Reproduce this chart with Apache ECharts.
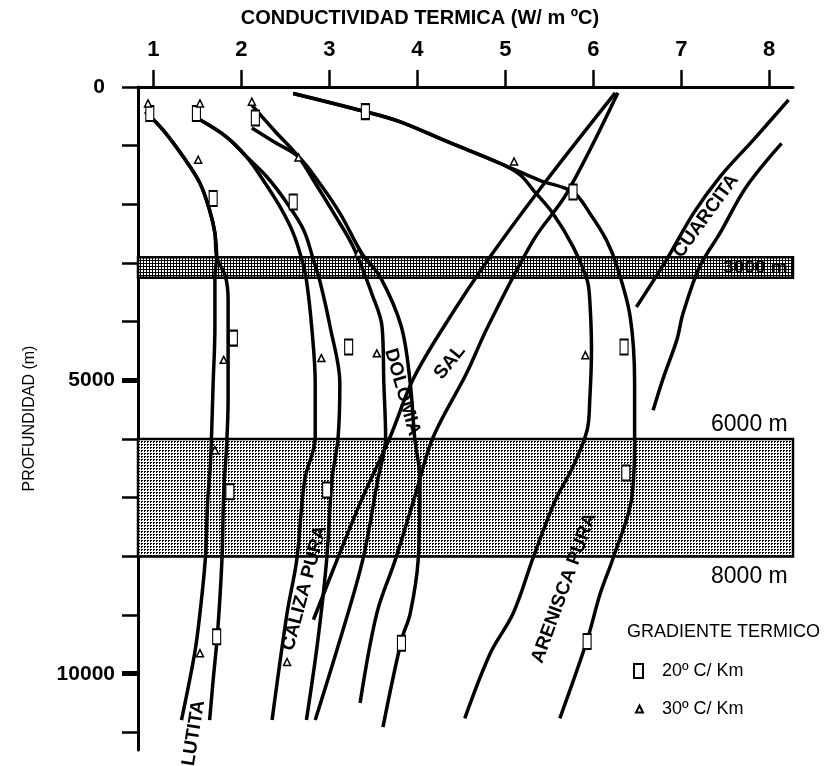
<!DOCTYPE html>
<html>
<head>
<meta charset="utf-8">
<script src="https://cdn.jsdelivr.net/npm/echarts@6/dist/echarts.min.js"></script>
<style>
  html, body { margin: 0; padding: 0; background: #fff; }
  #chart { width: 827px; height: 766px; }
</style>
</head>
<body>
<div id="chart"></div>
<script>
// Thermal conductivity (W/m °C) of rocks against depth (m), for two thermal gradients.

const conductivityTicks = [1, 2, 3, 4, 5, 6, 7, 8];
const depthLabelTicks = [0, 5000, 10000];
const depthMajorTicks = [5000, 10000];
const depthMinorTicks = [0, 1000, 2000, 3000, 4000, 5000, 6000, 7000, 8000, 9000, 10000, 11000];

const X_MIN = 0.826, X_MAX = 8.27, DEPTH_MAX = 11300;

// curves: [conductivity, depth]
const lutitaA = [[0.91,420],[1.11,730],[1.34,1190],[1.53,1640],[1.64,2100],[1.70,2490],[1.72,2890],[1.70,3230],[1.70,4090],[1.68,5050],[1.65,6400],[1.62,7000],[1.59,8060],[1.53,8970],[1.47,9650],[1.32,10790]];
const lutitaB = [[0.91,420],[1.11,730],[1.34,1190],[1.53,1640],[1.64,2100],[1.70,2490],[1.72,2890],[1.82,3230],[1.85,3630],[1.85,4480],[1.85,5340],[1.83,6190],[1.80,6900],[1.78,8060],[1.73,9310],[1.68,10110],[1.64,10790]];
const calizaA = [[1.53,560],[1.83,850],[2.06,1190],[2.25,1590],[2.44,2040],[2.59,2490],[2.69,2950],[2.74,3290],[2.80,4090],[2.84,5050],[2.84,5970],[2.72,6700],[2.63,8060],[2.52,8970],[2.35,10790]];
const calizaB = [[1.53,560],[1.83,850],[2.06,1190],[2.29,1530],[2.52,1980],[2.71,2440],[2.82,2950],[2.89,3290],[3.01,4090],[3.12,5050],[3.10,5970],[3.03,6700],[2.97,8060],[2.87,9430],[2.74,10790]];
const dolomiaA = [[2.12,310],[2.38,750],[2.65,1190],[2.82,1590],[3.05,2150],[3.27,2720],[3.49,3550],[3.60,4090],[3.62,5050],[3.64,5970],[3.55,6700],[3.38,8060],[3.12,9430],[2.84,10790]];
const dolomiaB = [[2.12,700],[2.38,940],[2.65,1190],[2.89,1640],[3.12,2150],[3.38,2860],[3.58,3240],[3.82,4090],[3.92,5050],[3.97,5970],[4.03,6700],[4.01,8060],[3.92,8970],[3.82,9430],[3.61,10910]];
const salA = [[6.25,100],[5.47,1590],[4.83,2890],[4.30,4090],[3.95,4990],[3.69,5970],[3.38,6990],[3.12,7940],[2.82,9080]];
const salB = [[6.28,100],[5.70,1810],[5.32,2610],[4.80,4090],[4.56,4880],[4.18,5970],[3.97,6990],[3.75,8060],[3.54,8970],[3.35,10500]];
const areniscaA = [[2.59,110],[3.41,420],[3.80,590],[4.37,950],[4.94,1300],[5.39,1590],[5.77,1790],[5.96,2150],[6.15,2610],[6.27,3060],[6.42,3920],[6.47,5050],[6.47,5960],[6.44,6980],[6.23,8010],[6.08,8630],[5.93,9430],[5.62,10760]];
const areniscaB = [[2.59,110],[3.41,420],[3.80,590],[4.37,950],[4.94,1300],[5.17,1500],[5.32,1760],[5.54,2150],[5.77,2720],[5.93,3290],[5.96,3630],[5.98,4480],[5.96,5340],[5.93,5850],[5.77,6470],[5.57,7040],[5.32,8010],[5.09,8970],[4.83,9650],[4.54,10760]];
const cuarcitaA = [[8.22,220],[7.82,900],[7.44,1530],[7.14,2150],[6.83,2950],[6.49,3750]];
const cuarcitaB = [[8.14,960],[7.74,1700],[7.44,2490],[7.21,3060],[7.02,3860],[6.95,4310],[6.80,4940],[6.68,5510]];

const curves = [lutitaA, lutitaB, calizaA, calizaB, dolomiaA, dolomiaB, salA, salB, areniscaA, areniscaB, cuarcitaA, cuarcitaB];

// measured points
const gradient20 = [[0.96,450],[1.49,450],[2.16,530],[3.41,420],[1.68,1900],[2.59,1960],[5.77,1790],[1.91,4280],[3.22,4430],[6.35,4430],[6.37,6580],[1.87,6900],[2.97,6870],[1.72,9370],[3.82,9480],[5.93,9450]];
const gradient30 = [[0.94,280],[1.53,280],[2.12,250],[1.51,1240],[2.65,1200],[3.33,2830],[5.10,1270],[1.80,4650],[2.91,4620],[3.54,4540],[1.70,6190],[5.91,4570],[1.53,9650],[2.52,9800]];

// rock names: [text, conductivity, depth, angle]
const curveLabels = [
  ['LUTITA', 1.46, 11010, 81],
  ['CALIZA PURA', 2.72, 8540, 75],
  ['DOLOMIA', 3.83, 5200, -74],
  ['SAL', 4.37, 4690, 51],
  ['ARENISCA PURA', 5.67, 8540, 70],
  ['CUARCITA', 7.28, 2200, 54]
];

// depth bands [top, bottom]
const bands = [[2900, 3250], [6000, 8000]];
const bandLabels = [['3000 m', 8.21, 3075, 'middle'], ['6000 m', 8.21, 6000, 'bottom'], ['8000 m', 8.21, 8000, 'top']];

const SANS = "'Liberation Sans', Arial, Helvetica, sans-serif";

function makePattern(w, h, bg, fg, cells) {
  const c = document.createElement('canvas');
  c.width = w; c.height = h;
  const g = c.getContext('2d');
  g.fillStyle = bg; g.fillRect(0, 0, w, h);
  g.fillStyle = fg;
  cells.forEach(([x, y, cw, ch]) => g.fillRect(x, y, cw, ch));
  return c;
}
const bandPatterns = [
  makePattern(3, 3, '#000', '#fff', [[0, 0, 2, 2]]),
  makePattern(3, 3, '#fff', '#000', [[0, 0, 2, 1], [0, 1, 1, 1]])
];

const chart = echarts.init(document.getElementById('chart'), null, { renderer: 'canvas' });

const lineSeries = curves.map(c => ({
  type: 'line', data: c, symbol: 'none', smooth: 0.35, silent: true, z: 3,
  lineStyle: { color: '#000', width: 3.5 }
}));

const textSeriesStyle = { opacity: 1, color: 'transparent' };

const option = {
  animation: false,
  backgroundColor: '#fff',
  grid: { left: 138, right: 34, top: 87, bottom: 16, containLabel: false },
  xAxis: {
    type: 'value', position: 'top', min: X_MIN, max: X_MAX,
    axisLine: { show: true, onZero: false, lineStyle: { color: '#000', width: 3 } },
    axisTick: { show: true, inside: false, length: 17, customValues: conductivityTicks, lineStyle: { color: '#000', width: 2.5 } },
    axisLabel: { customValues: conductivityTicks, margin: 26, color: '#000', fontSize: 22, fontWeight: 'bold', fontFamily: SANS },
    splitLine: { show: false }
  },
  yAxis: [{
    type: 'value', inverse: true, min: 0, max: DEPTH_MAX, position: 'left',
    axisLine: { show: true, onZero: false, lineStyle: { color: '#000', width: 3 } },
    axisTick: { show: true, length: 16, customValues: depthMajorTicks, lineStyle: { color: '#000', width: 5 } },
    axisLabel: {
      customValues: depthLabelTicks, margin: 23, color: '#000', fontSize: 21, fontWeight: 'bold', fontFamily: SANS,
      formatter: v => v === 0 ? '{z|0}' : String(v),
      rich: { z: { fontSize: 21, fontWeight: 'bold', fontFamily: SANS, color: '#000', padding: [0, 10, 0, 0] } }
    },
    splitLine: { show: false },
    name: 'PROFUNDIDAD (m)', nameLocation: 'middle', nameRotate: 90, nameGap: 100,
    nameTextStyle: { color: '#000', fontSize: 16, fontFamily: SANS }
  }, {
    type: 'value', inverse: true, min: 0, max: DEPTH_MAX, position: 'left',
    axisLine: { show: false },
    axisTick: { show: true, length: 16, customValues: depthMinorTicks, lineStyle: { color: '#000', width: 2.5 } },
    axisLabel: { show: false },
    splitLine: { show: false }
  }],
  legend: [{
    data: ['20º C/ Km'], left: 633, top: 662, padding: 0, itemWidth: 9, itemHeight: 14, selectedMode: false,
    textStyle: { color: '#000', fontSize: 18, fontFamily: SANS, padding: [0, 0, 0, 14] }
  }, {
    data: ['30º C/ Km'], left: 635, top: 700, padding: 0, itemWidth: 7, itemHeight: 7, selectedMode: false,
    textStyle: { color: '#000', fontSize: 18, fontFamily: SANS, padding: [0, 0, 0, 14] }
  }],
  graphic: [
    { type: 'text', x: 420, y: 18, style: { text: 'CONDUCTIVIDAD TERMICA (W/ m ºC)', align: 'center', verticalAlign: 'middle', font: 'bold 20px ' + SANS, fill: '#000' } },
    { type: 'text', x: 627, y: 632, style: { text: 'GRADIENTE TERMICO', align: 'left', verticalAlign: 'middle', font: '18px ' + SANS, fill: '#000' } }
  ],
  series: [
    {
      type: 'custom', silent: true, z: 1,
      data: bands.map((b, i) => [X_MIN, b[0], X_MAX, b[1], i]),
      encode: { x: [0, 2], y: [1, 3] },
      renderItem: (params, api) => {
        const p1 = api.coord([api.value(0), api.value(1)]);
        const p2 = api.coord([api.value(2), api.value(3)]);
        return {
          type: 'rect',
          shape: { x: p1[0], y: p1[1], width: p2[0] - p1[0], height: p2[1] - p1[1] },
          style: { fill: { type: 'pattern', image: bandPatterns[api.value(4)], repeat: 'repeat' }, stroke: '#000', lineWidth: 2.5 }
        };
      }
    },
    ...lineSeries,
    {
      name: '20º C/ Km', type: 'scatter', data: gradient20, symbol: 'rect', symbolSize: [8, 15], z: 5, silent: true,
      itemStyle: { color: '#fff', borderColor: '#000', borderWidth: 1.5, opacity: 1 }
    },
    {
      name: '30º C/ Km', type: 'scatter', data: gradient30, symbol: 'triangle', symbolSize: 7, z: 5, silent: true,
      itemStyle: { color: '#fff', borderColor: '#000', borderWidth: 1.5, opacity: 1 }
    },
    {
      type: 'scatter', symbolSize: 0, z: 6, silent: true, itemStyle: textSeriesStyle,
      data: curveLabels.map(l => ({
        value: [l[1], l[2]],
        label: { show: true, formatter: l[0], rotate: l[3], position: [0, 0], align: 'center', verticalAlign: 'middle',
          color: '#000', opacity: 1, fontSize: 19, fontWeight: 'bold', fontFamily: SANS }
      }))
    },
    {
      type: 'scatter', symbolSize: 0, z: 6, silent: true, itemStyle: textSeriesStyle,
      data: bandLabels.map(l => ({
        value: [l[1], l[2]],
        label: { show: true, formatter: l[0], position: [0, 0], align: 'right', verticalAlign: l[3],
          offset: [0, l[3] === 'bottom' ? -3 : (l[3] === 'top' ? 9 : 0)],
          color: '#000', opacity: 1, fontSize: l[3] === 'middle' ? 19 : 23, fontWeight: l[3] === 'middle' ? 'bold' : 'normal', fontFamily: SANS }
      }))
    }
  ]
};

chart.setOption(option);
</script>
</body>
</html>
